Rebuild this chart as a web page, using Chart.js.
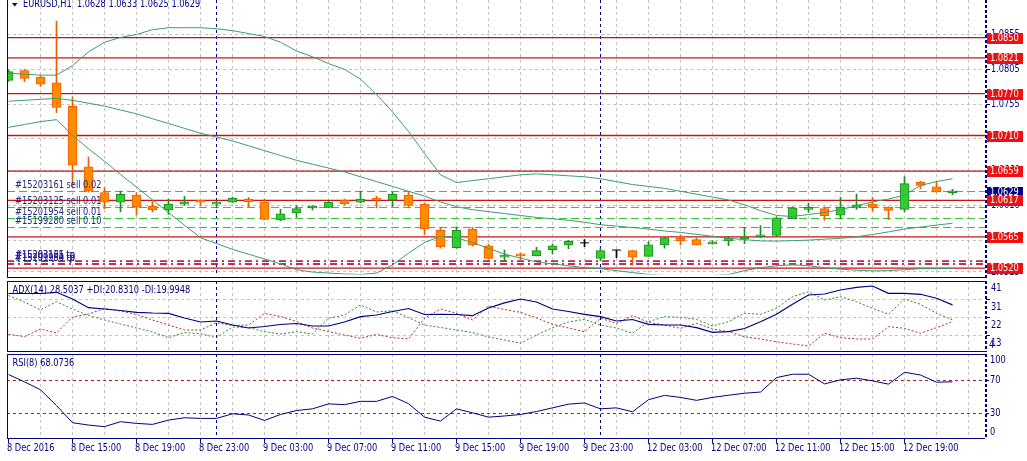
<!DOCTYPE html>
<html>
<head>
<meta charset="utf-8">
<title>EURUSD,H1</title>
<script src="https://cdn.jsdelivr.net/npm/chart.js@4.4.1/dist/chart.umd.min.js"></script>
<style>
html,body{margin:0;padding:0;background:#ffffff;overflow:hidden;}
#wrap{position:relative;width:1027px;height:461px;background:#ffffff;}
#wrap canvas{position:absolute;left:0;}
</style>
</head>
<body>
<div id="wrap">
<canvas id="cMain" width="1027" height="280" style="top:0px;width:1027px;height:280px"></canvas>
<canvas id="cAdx" width="1027" height="74" style="top:280px;width:1027px;height:74px"></canvas>
<canvas id="cRsi" width="1027" height="107" style="top:354px;width:1027px;height:107px"></canvas>
</div>
<script>
// ---------------- DATA ----------------
const symbolTitle = 'EURUSD,H1  1.0628 1.0633 1.0625 1.0629';
const opens = [
1.07890,1.08029,1.07932,1.07853,1.07516,1.06652,1.06283,1.06145,1.06246,1.06089,
1.06034,1.06117,1.06167,1.06117,1.06145,1.06191,1.06145,1.05890,1.05992,1.06062,
1.06070,1.06173,1.06145,1.06204,1.06173,1.06246,1.06117,1.05743,1.05494,1.05761,
1.05521,1.05359,1.05405,1.05377,1.05466,1.05535,1.05563,1.05341,1.05460,1.05452,
1.05369,1.05535,1.05627,1.05609,1.05549,1.05591,1.05618,1.05650,1.05668,1.05909,
1.06042,1.06052,1.05959,1.06070,1.06121,1.06076,1.06042,1.06430,1.06366,1.06280];
const highs = [
1.08040,1.08047,1.07954,1.08740,1.07655,1.06790,1.06353,1.06306,1.06283,1.06167,
1.06191,1.06228,1.06172,1.06163,1.06218,1.06214,1.06186,1.06042,1.06098,1.06098,
1.06163,1.06191,1.06306,1.06228,1.06292,1.06292,1.06135,1.05785,1.05793,1.05785,
1.05544,1.05460,1.05415,1.05498,1.05544,1.05599,1.05609,1.05488,1.05460,1.05457,
1.05581,1.05646,1.05674,1.05636,1.05591,1.05654,1.05785,1.05812,1.05937,1.06080,
1.06131,1.06080,1.06214,1.06260,1.06214,1.06080,1.06513,1.06444,1.06440,1.06330];
const lows = [
1.07874,1.07871,1.07807,1.07428,1.06375,1.06288,1.06052,1.06006,1.05959,1.06006,
1.05969,1.06098,1.06098,1.06062,1.06142,1.06080,1.05898,1.05876,1.05931,1.06034,
1.06068,1.06107,1.06135,1.06062,1.06084,1.06062,1.05682,1.05488,1.05484,1.05516,
1.05332,1.05304,1.05314,1.05375,1.05405,1.05480,1.05508,1.05304,1.05350,1.05244,
1.05369,1.05488,1.05535,1.05535,1.05544,1.05521,1.05553,1.05636,1.05650,1.05909,
1.05997,1.05886,1.05904,1.06042,1.06015,1.05895,1.06006,1.06339,1.06290,1.06250];
const closes = [
1.08015,1.07918,1.07835,1.07503,1.06675,1.06306,1.06145,1.06256,1.06076,1.06034,
1.06117,1.06149,1.06145,1.06135,1.06200,1.06153,1.05900,1.05979,1.06052,1.06080,
1.06145,1.06125,1.06191,1.06173,1.06256,1.06098,1.05761,1.05508,1.05743,1.05535,
1.05341,1.05387,1.05377,1.05452,1.05521,1.05585,1.05563,1.05452,1.05460,1.05359,
1.05535,1.05636,1.05591,1.05535,1.05577,1.05636,1.05650,1.05664,1.05923,1.06066,
1.06062,1.05951,1.06076,1.06107,1.06070,1.06028,1.06412,1.06385,1.06292,1.06290];

const bbUpper = [
1.07992,1.07978,1.07964,1.07964,1.08102,1.08296,1.08435,1.08504,1.08546,1.08615,
1.08643,1.08643,1.08643,1.08629,1.08601,1.08560,1.08518,1.08435,1.08310,1.08227,
1.08130,1.08047,1.07908,1.07687,1.07437,1.07160,1.06842,1.06537,1.06426,1.06454,
1.06481,1.06509,1.06537,1.06551,1.06537,1.06523,1.06509,1.06481,1.06440,1.06398,
1.06371,1.06343,1.06301,1.06260,1.06218,1.06177,1.06107,1.06024,1.05955,1.05941,
1.05969,1.05997,1.06038,1.06094,1.06149,1.06191,1.06246,1.06385,1.06440,1.06481];
const bbMiddle = [
1.07590,1.07604,1.07618,1.07631,1.07604,1.07562,1.07521,1.07465,1.07410,1.07340,
1.07271,1.07202,1.07133,1.07077,1.07022,1.06953,1.06883,1.06814,1.06745,1.06689,
1.06634,1.06578,1.06509,1.06440,1.06371,1.06301,1.06232,1.06149,1.06080,1.06038,
1.06010,1.05983,1.05955,1.05927,1.05907,1.05886,1.05858,1.05823,1.05803,1.05782,
1.05761,1.05733,1.05713,1.05685,1.05657,1.05629,1.05609,1.05591,1.05588,1.05595,
1.05602,1.05616,1.05627,1.05650,1.05682,1.05720,1.05761,1.05789,1.05816,1.05844];
const bbLower = [
1.07216,1.07257,1.07299,1.07327,1.07105,1.06911,1.06731,1.06542,1.06361,1.06179,
1.05998,1.05816,1.05636,1.05553,1.05470,1.05401,1.05332,1.05262,1.05179,1.05145,
1.05131,1.05117,1.05110,1.05131,1.05248,1.05415,1.05567,1.05657,1.05636,1.05567,
1.05484,1.05401,1.05345,1.05290,1.05262,1.05235,1.05207,1.05193,1.05165,1.05138,
1.05110,1.05096,1.05089,1.05089,1.05096,1.05110,1.05165,1.05207,1.05235,1.05248,
1.05235,1.05207,1.05186,1.05172,1.05161,1.05165,1.05179,1.05193,1.05193,1.05197];

const levelPrices = [1.0850,1.0821,1.0770,1.0710,1.0659,1.0617,1.0565,1.0520];
const bidPrice = 1.0629;
const orderPrices = [1.0630,1.0607,1.0591,1.0578];
const orderLabels = ['#15203161 sell 0.02','#15203125 sell 0.01','#15201954 sell 0.01','#15199280 sell 0.10'];
const tpPrices = [1.0530,1.0530,1.0526,1.0526];
const tpLabels = ['#15203161 tp','#15203125 tp','#15201954 tp','#15199280 tp'];
const priceTicks = [1.0855,1.0805,1.0755,1.0705,1.0660,1.0610,1.0560,1.0515];

const adxTitle = 'ADX(14) 28.5037 +DI:20.8310 -DI:19.9948';
const adxMain = [
34.32,34.32,34.32,34.93,31.51,27.07,26.41,25.64,24.72,24.37,
24.21,21.82,19.78,20.29,18.24,16.71,17.48,18.50,19.01,17.73,
17.73,19.78,22.48,23.35,25.13,26.66,23.60,23.70,23.60,22.99,
26.90,29.50,31.51,29.98,26.41,25.13,23.70,22.48,20.29,21.05,
18.60,18.24,18.24,16.87,14.52,14.83,16.46,19.93,23.70,28.81,
33.55,34.06,36.10,37.48,38.14,34.42,34.42,33.91,31.87,28.50];
const plusDI = [
33.30,29.98,25.90,30.13,26.41,23.09,20.80,18.76,16.71,14.67,
11.77,14.42,13.81,11.77,17.22,16.97,14.83,13.65,14.83,13.65,
21.66,23.35,28.45,24.88,25.54,21.97,18.24,16.97,15.69,14.42,
12.12,10.59,8.91,13.14,16.87,19.78,21.15,18.24,16.71,14.01,
19.93,22.48,22.17,21.15,17.73,19.93,24.21,23.70,26.77,32.68,
35.23,31.00,32.68,30.13,26.77,23.70,31.51,28.81,24.21,20.83];
const minusDI = [
13.50,12.28,16.20,14.16,22.33,23.86,26.66,25.39,23.60,20.80,
18.24,15.69,15.69,19.42,17.99,18.24,24.11,22.58,20.03,16.71,
14.93,13.14,11.46,13.40,11.77,11.10,21.66,26.41,24.21,20.80,
27.94,26.15,24.72,21.82,18.60,16.71,14.83,21.66,19.11,22.99,
19.62,18.24,16.56,19.11,16.20,14.83,12.28,11.10,9.72,8.55,
7.53,14.01,11.77,11.10,11.10,17.38,16.56,14.01,16.87,19.99];
const adxGrid = [31,22,13];
const adxTopLabel = '41', adxBottomLabel = '4';

const rsiTitle = 'RSI(8) 68.0736';
const rsi = [
76.8,68.0,58.6,39.8,19.4,16.6,14.7,20.6,18.6,17.4,
22.5,25.3,24.5,24.5,30.0,28.6,22.1,29.2,33.9,35.9,
41.8,40.9,44.8,44.8,50.7,42.1,26.0,21.3,35.9,31.2,
26.0,27.4,29.2,32.7,37.1,41.5,42.9,35.9,37.1,32.4,
46.8,51.9,49.5,46.0,49.5,52.1,54.5,55.9,73.1,77.1,
77.1,65.6,70.4,72.4,69.2,65.3,79.4,76.2,67.6,68.07];
const rsiLevels = [70,30];
const rsiLabels = ['100','70','30','0'];

const timeLabels = ['8 Dec 2016','8 Dec 15:00','8 Dec 19:00','8 Dec 23:00','9 Dec 03:00','9 Dec 07:00','9 Dec 11:00',
  '9 Dec 15:00','9 Dec 19:00','9 Dec 23:00','12 Dec 03:00','12 Dec 07:00','12 Dec 11:00','12 Dec 15:00','12 Dec 19:00'];
const timeLabelBars = [0,4,8,12,16,20,24,28,32,36,40,44,48,52,56];
const separatorBars = [13,37];

// ---------------- STYLE ----------------
const NAVY = '#000080';
const GRID = '#c4c4c4';
const FONT = '9.6px "DejaVu Sans", "Liberation Sans", sans-serif';
const FONT_SX = 0.86;
const BULL = '#32cd32', BULL_B = '#1e8c1e';
const BEAR = '#ff8c00', BEAR_B = '#f25c00';
const BB = '#3a9f6c';
const XMIN = -0.09375, XMAX = 61.03125;
const YMIN = 1.051099, YMAX = 1.089613;

// ---------------- HELPERS ----------------
function ln(ctx,x1,y1,x2,y2,color,w,dash){
  ctx.save();ctx.strokeStyle=color;ctx.lineWidth=w;ctx.setLineDash(dash||[]);
  ctx.beginPath();ctx.moveTo(x1,y1);ctx.lineTo(x2,y2);ctx.stroke();ctx.restore();
}
const px = v => Math.floor(v)+0.5;
function txt(ctx,s,x,y,color){
  ctx.save();ctx.font=FONT;ctx.fillStyle=color;ctx.textBaseline='middle';ctx.textAlign='left';
  ctx.translate(x,y);ctx.scale(FONT_SX,1);ctx.fillText(s,0,0);ctx.restore();
}
function vGrid(chart,top,bottom){
  const {ctx,chartArea:a,scales:{x}}=chart;
  for(let b=2;b<=XMAX;b+=2){const X=x.getPixelForValue(b); if(X<a.right-2) ln(ctx,px(X),top,px(X),bottom,GRID,1,[3,3]);}
}
function separators(chart,top,bottom){
  const {ctx,scales:{x}}=chart;
  separatorBars.forEach(b=>{const X=px(x.getPixelForValue(b)); ln(ctx,X,top,X,bottom,NAVY,1,[3,3]);});
}
function frame(chart,topRow,bottomRow){
  const {ctx,chartArea:a}=chart;
  const L=px(a.left);
  if(topRow!==null) ln(ctx,L,topRow+0.5,a.right,topRow+0.5,NAVY,1);
  ln(ctx,L,bottomRow+0.5,a.right,bottomRow+0.5,NAVY,1);
  ln(ctx,L,topRow===null?0:topRow,L,bottomRow+1,NAVY,1);
  ln(ctx,a.right+1,topRow===null?0:topRow,a.right+1,bottomRow+1,NAVY,2,[3,2]);
}
function baseOptions(pad,ymin,ymax){
  return {
    responsive:false, animation:false, devicePixelRatio:1, events:[],
    layout:{padding:pad},
    plugins:{legend:{display:false},tooltip:{enabled:false},title:{display:false}},
    scales:{
      x:{type:'linear',min:XMIN,max:XMAX,display:false,offset:false},
      y:{type:'linear',min:ymin,max:ymax,display:false}
    }
  };
}
const series = arr => arr.map((v,i)=>({x:i,y:v}));

// ---------------- MAIN CHART ----------------
const bodies = opens.map((o,i)=>({x:i,y:[o,closes[i]]})).filter(d=>d.y[0]!==d.y[1]);
const dojis = opens.map((o,i)=>({x:i,y:o})).filter(d=>d.y===closes[d.x]);
const wicks = highs.map((h,i)=>({x:i,y:[lows[i],h]}));
const isBull = c => c.raw && c.raw.y[1] > c.raw.y[0];
const wickColor = c => { if(!c.raw) return BULL_B; const i=c.raw.x;
  return closes[i]>opens[i]?BULL_B:(closes[i]<opens[i]?BEAR_B:'#000000'); };

const mainPlugin = {
  id:'mainDecor',
  beforeDatasetsDraw(chart){
    const {ctx,chartArea:a,scales:{y}}=chart;
    vGrid(chart,0,a.bottom);
    priceTicks.forEach(p=>{const Y=px(y.getPixelForValue(p)); ln(ctx,a.left,Y,a.right,Y,GRID,1,[3,3]);});
    separators(chart,0,a.bottom);
    levelPrices.forEach(p=>{const Y=y.getPixelForValue(p); ln(ctx,a.left,Y,a.right,Y,'#c81414',1.3);});
    orderPrices.forEach(p=>{const Y=px(y.getPixelForValue(p)); ln(ctx,a.left,Y,a.right,Y,'#38c438',1,[8,4]);});
    tpPrices.forEach(p=>{const Y=y.getPixelForValue(p); ln(ctx,a.left,Y,a.right,Y,'#b8234f',1.4,[7,4,2,4]);});
  },
  afterDatasetsDraw(chart){
    const {ctx,chartArea:a,scales:{y}}=chart;
    orderPrices.forEach((p,k)=>txt(ctx,orderLabels[k],15,y.getPixelForValue(p)-6,'#1c2878'));
    tpPrices.forEach((p,k)=>txt(ctx,tpLabels[k],15,y.getPixelForValue(p)-6,'#2a2090'));
    // title
    ctx.save();ctx.fillStyle=NAVY;ctx.beginPath();ctx.moveTo(12,3);ctx.lineTo(17.5,3);ctx.lineTo(14.75,6.5);ctx.closePath();ctx.fill();ctx.restore();
    txt(ctx,symbolTitle,23,4.5,NAVY);
    frame(chart,null,277);
    // right scale
    priceTicks.forEach(p=>{const Y=y.getPixelForValue(p); ln(ctx,986,px(Y),990,px(Y),NAVY,1); txt(ctx,p.toFixed(4),991,Y+0.5,NAVY);});
    const box=(p,color)=>{const Y=Math.round(y.getPixelForValue(p)); ctx.fillStyle=color; ctx.fillRect(987,Y-5,36,11); txt(ctx,p.toFixed(4),990,Y+0.5,'#ffffff');};
    box(bidPrice,NAVY);
    levelPrices.forEach(p=>box(p,'#ee1111'));
  }
};

const mainOpts = baseOptions({left:7,right:42,top:0,bottom:2},YMIN,YMAX);
new Chart(document.getElementById('cMain'),{
  type:'bar',
  data:{datasets:[
    {type:'line',data:series(bbUpper),borderColor:BB,borderWidth:1,pointRadius:0,tension:0,fill:false,order:0},
    {type:'line',data:series(bbMiddle),borderColor:BB,borderWidth:1,pointRadius:0,tension:0,fill:false,order:0},
    {type:'line',data:series(bbLower),borderColor:BB,borderWidth:1,pointRadius:0,tension:0,fill:false,order:0},
    {type:'line',data:dojis,showLine:false,pointStyle:'line',pointRadius:4.5,pointBorderColor:'#000000',pointBorderWidth:1,order:1},
    {type:'bar',data:bodies,backgroundColor:c=>isBull(c)?BULL:BEAR,borderColor:c=>isBull(c)?BULL_B:BEAR_B,
      borderWidth:1,borderSkipped:false,barThickness:9,minBarLength:2,grouped:false,order:2},
    {type:'bar',data:wicks,backgroundColor:wickColor,borderWidth:0,barThickness:1,grouped:false,order:3}
  ]},
  options:mainOpts,
  plugins:[mainPlugin]
});

// ---------------- ADX CHART ----------------
const ADXMIN = 4.47, ADXMAX = 40.69;
const adxPlugin = {
  id:'adxDecor',
  beforeDatasetsDraw(chart){
    const {ctx,chartArea:a,scales:{y}}=chart;
    vGrid(chart,1,71);
    adxGrid.forEach(v=>{const Y=px(y.getPixelForValue(v)); ln(ctx,a.left,Y,a.right,Y,GRID,1,[3,3]);});
    separators(chart,1,71);
  },
  afterDatasetsDraw(chart){
    const {ctx,chartArea:a,scales:{y}}=chart;
    frame(chart,1,71);
    txt(ctx,adxTitle,12.5,10,NAVY);
    txt(ctx,adxTopLabel,991,a.top+7.7,NAVY);
    adxGrid.forEach(v=>{const Y=y.getPixelForValue(v); ln(ctx,986,px(Y),990,px(Y),NAVY,1); txt(ctx,String(v),991,Y+8,NAVY);});
    txt(ctx,adxBottomLabel,989,a.bottom-6.5,NAVY);
  }
};
new Chart(document.getElementById('cAdx'),{
  type:'line',
  data:{datasets:[
    {data:series(adxMain),borderColor:NAVY,borderWidth:1.2,pointRadius:0,tension:0,fill:false,order:0},
    {data:series(plusDI),borderColor:'#2a8a2a',borderWidth:1,borderDash:[2,2],pointRadius:0,tension:0,fill:false,order:1},
    {data:series(minusDI),borderColor:'#b82828',borderWidth:1,borderDash:[2,2],pointRadius:0,tension:0,fill:false,order:2}
  ]},
  options:baseOptions({left:7,right:42,top:1,bottom:2},ADXMIN,ADXMAX),
  plugins:[adxPlugin]
});

// ---------------- RSI CHART ----------------
const rsiPlugin = {
  id:'rsiDecor',
  beforeDatasetsDraw(chart){
    const {ctx,chartArea:a,scales:{y}}=chart;
    vGrid(chart,0,84);
    rsiLevels.forEach(v=>{const Y=px(y.getPixelForValue(v)); ln(ctx,a.left,Y,a.right,Y,'#b22222',1,[3,3]);});
    separators(chart,0,84);
  },
  afterDatasetsDraw(chart){
    const {ctx,chartArea:a,scales:{x,y}}=chart;
    frame(chart,0,84);
    txt(ctx,rsiTitle,12.5,9.7,NAVY);
    txt(ctx,rsiLabels[0],990,a.top+5.7,NAVY);
    txt(ctx,rsiLabels[1],990,y.getPixelForValue(70),NAVY);
    txt(ctx,rsiLabels[2],990,y.getPixelForValue(30),NAVY);
    txt(ctx,rsiLabels[3],990,a.bottom-6.3,NAVY);
    rsiLevels.forEach(v=>{const Y=px(y.getPixelForValue(v)); ln(ctx,986,Y,989,Y,NAVY,1);});
    timeLabels.forEach((s,k)=>{
      const X=x.getPixelForValue(timeLabelBars[k]);
      ln(ctx,px(X),85,px(X),89,NAVY,1);
      txt(ctx,s,X-1.5,94.5,NAVY);
    });
  }
};
new Chart(document.getElementById('cRsi'),{
  type:'line',
  data:{datasets:[
    {data:series(rsi),borderColor:NAVY,borderWidth:1,pointRadius:0,tension:0,fill:false}
  ]},
  options:baseOptions({left:7,right:42,top:1,bottom:22},0,100),
  plugins:[rsiPlugin]
});
</script>
</body>
</html>
